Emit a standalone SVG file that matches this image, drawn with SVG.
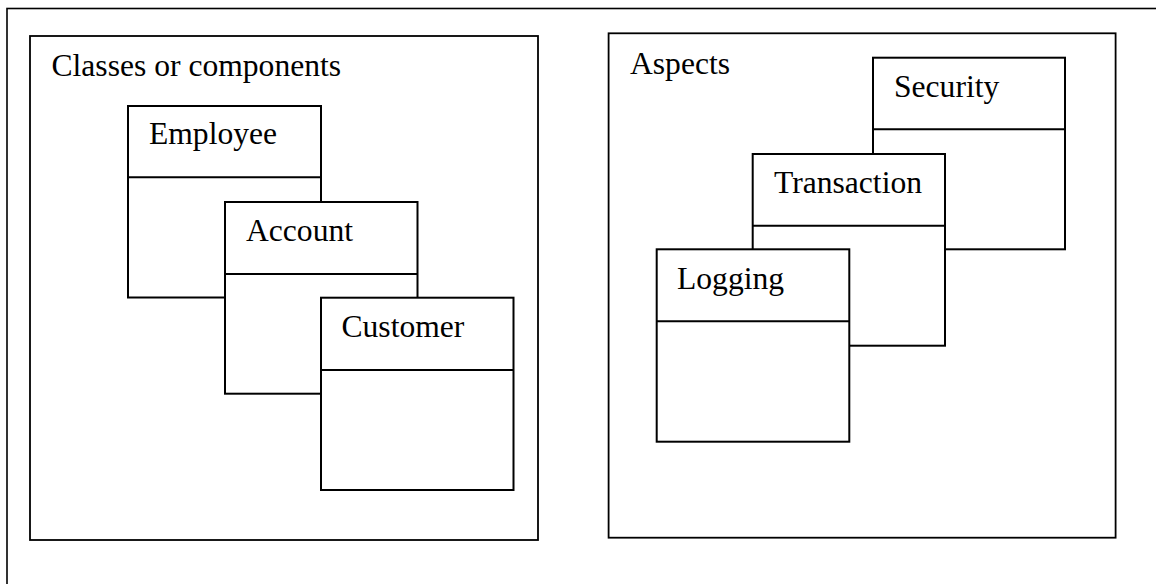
<svg xmlns="http://www.w3.org/2000/svg" width="1156" height="584" viewBox="0 0 1156 584">
<style>
.frame{fill:none;stroke:#000;stroke-width:1.6}
.cont{fill:#fff;stroke:#000;stroke-width:1.8}
.box{fill:#fff;stroke:#000;stroke-width:2}
.div{stroke:#000;stroke-width:2}
text{font-family:"Liberation Serif","Times New Roman",serif;font-size:31.6px;fill:#000}
</style>
<rect width="1156" height="584" fill="#fff"/>
<rect class="frame" x="7" y="8.5" width="1170" height="600"/>
<g id="classes">
<rect class="cont" x="30" y="36" width="508" height="504"/>
<text x="51.5" y="76">Classes or components</text>
</g>
<g id="employee">
<rect class="box" x="128" y="106" width="193" height="191.5"/>
<line class="div" x1="128" y1="177.3" x2="321" y2="177.3"/>
<text x="149" y="144">Employee</text>
</g>
<g id="account">
<rect class="box" x="225" y="202" width="192.5" height="191.7"/>
<line class="div" x1="225" y1="274" x2="417.5" y2="274"/>
<text x="246" y="241">Account</text>
</g>
<g id="customer">
<rect class="box" x="321" y="297.7" width="192.5" height="192.3"/>
<line class="div" x1="321" y1="370" x2="513.5" y2="370"/>
<text x="341.5" y="337">Customer</text>
</g>
<g id="aspects">
<rect class="cont" x="608.6" y="33.3" width="507" height="504.4"/>
<text x="630" y="74.3">Aspects</text>
</g>
<g id="security">
<rect class="box" x="873" y="57.7" width="192" height="191.6"/>
<line class="div" x1="873" y1="129.3" x2="1065" y2="129.3"/>
<text x="894" y="97">Security</text>
</g>
<g id="transaction">
<rect class="box" x="752.7" y="154" width="192.3" height="191.7"/>
<line class="div" x1="752.7" y1="225.7" x2="945" y2="225.7"/>
<text x="774" y="193">Transaction</text>
</g>
<g id="logging">
<rect class="box" x="656.7" y="249.3" width="192.6" height="192.4"/>
<line class="div" x1="656.7" y1="321.3" x2="849.3" y2="321.3"/>
<text x="677" y="289">Logging</text>
</g>
<g id="connectors"></g>
</svg>
